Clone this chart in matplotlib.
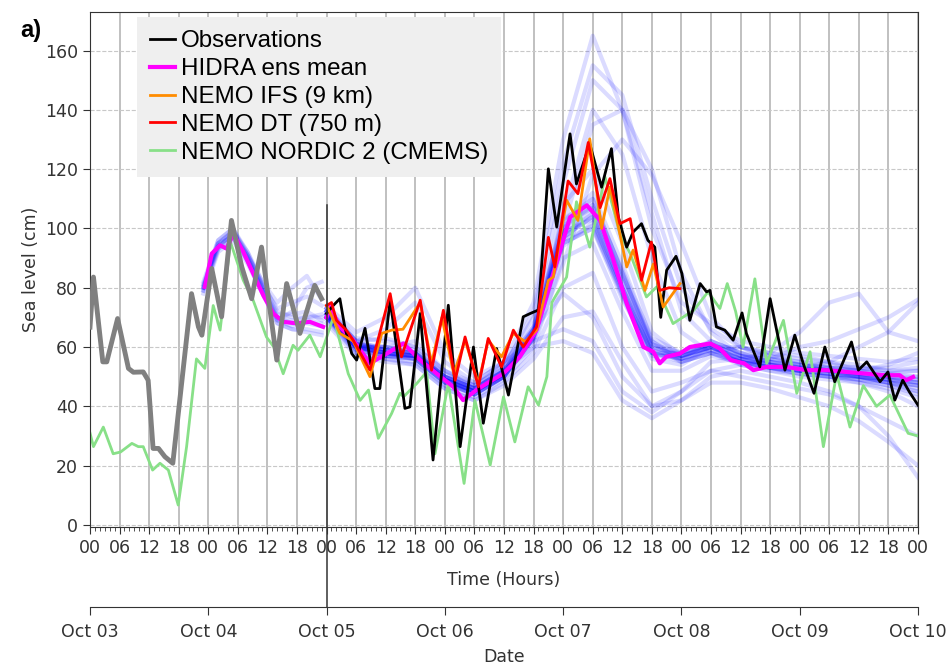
import matplotlib
matplotlib.use("Agg")
import matplotlib.pyplot as plt
import numpy as np

# time in hours from Oct 03 00:00
obs_hist_t = [0, 0.7, 2.6, 3.4, 5.6, 7.8, 8.8, 10.8, 11.8, 12.8, 13.9, 15.2, 16.8, 20.6, 22, 22.7,
              24.7, 26.7, 28.7, 30.8, 32.8, 34.8, 37.9, 39.9, 42.6, 45.6, 47]
obs_hist_v = [66.7, 83.6, 55, 55, 69.6, 52.8, 51.5, 51.6, 48.8, 25.8, 25.8, 23, 20.8, 78, 66.8, 64,
              86.5, 70.2, 102.7, 87, 76.3, 93.7, 55.6, 81.4, 64.6, 80.8, 76.3]

obs_t = [48, 49.4, 50.7, 51.7, 53.1, 54.1, 55.8, 57.8, 58.8, 60.9, 63.9, 64.9, 67, 69.6, 72.7, 75.1,
         77.8, 79.8, 82.5, 84.9, 87.9, 89.3, 91, 93, 94.7, 97.4, 98.7, 101.4, 103.8, 105.8, 107.2,
         108.9, 110.2, 111.9, 113.2, 114.6, 115.8, 117, 118.9, 120.1, 121.7, 123.8, 125.1, 125.8,
         127.1, 128.8, 130.5, 132.3, 133.2, 135.9, 138, 141, 143, 144.7, 146.9, 149.1, 151.1, 154.5,
         155.9, 157.6, 160.3, 161.9, 163.3, 164.9, 166.2, 168]
obs_v = [71.3, 74.1, 76.3, 66.7, 57.8, 55.6, 66.3, 46, 46, 75.8, 39.3, 39.8, 71.3, 21.9, 74.1, 26.4,
         60, 34.3, 59.5, 43.8, 70.2, 71.3, 72.5, 120.1, 100.5, 131.9, 115, 128.5, 113.9, 126.9, 103.8,
         93.7, 98.8, 101.6, 96, 93.7, 70, 85.9, 90.6, 84.8, 69, 81.4, 78.6, 79.1,
         66.8, 65.7, 62.3, 71.5, 64.5, 53.3, 76.3, 52.2, 64, 54.5, 44.4, 60, 48.3, 61.7,
         52.2, 55, 48.3, 51.6, 42.1, 48.8, 45, 40.4]

hidra1_t = [23.3, 24.7, 26.4, 27.7, 29.1, 31.1, 33.1, 35.2, 37.2, 39.2, 41.9, 44.6, 47.3]
hidra1_v = [80.3, 91.5, 94.3, 93.2, 98.2, 92.1, 84.8, 77.3, 71.3, 68.5, 68, 68.5, 66.8]

hidra_t = [48, 48.7, 50.7, 53.4, 56.8, 60.2, 63.6, 67, 70.3, 73.7, 75.7, 78.4, 80.5, 83.9, 87.2,
           90.6, 94, 97.4, 100.8, 103.5, 106.2, 108.9, 112.3, 114.3, 115.6, 116.9, 119.7, 121.7,
           125.8, 127.8, 130, 132.7, 134.6, 137.3, 141.3, 145.4, 149.5, 153.5, 156.9, 161, 164.3,
           165.6, 167]
hidra_v = [70, 73.5, 66.8, 62.3, 54.5, 57.8, 61.2, 55.6, 51.1, 46.6, 42.1, 45.5, 47.7, 51.1, 56.7,
           65.7, 84.8, 103.8, 107.8, 102.7, 89.3, 74.7, 60, 58.4, 54.5, 56.7, 57.8, 60,
           61.2, 59.5, 55.6, 54.5, 52.2, 53.3, 53.3, 52.2, 52.2, 51.6, 51.1, 50.5, 50.5,
           48.8, 49.9]

ifs_t = [48, 50.7, 53.4, 56.8, 59.2, 61.2, 63.5, 67, 69.3, 71.4, 73.8, 76.1, 78.8, 80.8, 83.5, 85.9,
         88.3, 90.6, 93, 94, 96.7, 99, 101.4, 103.8, 105.5, 107.5, 108.9, 110.2, 112.6, 114.3,
         116.3, 119.7]
ifs_v = [74, 64.6, 62, 50, 64.6, 65.7, 66, 75, 54.4, 70, 51, 62.3, 47.7, 62.3, 56.7, 64.6,
         61.8, 65.7, 82.5, 83.6, 109.5, 102.7, 130.2, 100, 114, 98.2, 87, 92.7, 79.1, 88,
         73.5, 81.4]

dt_t = [48, 49, 50, 52, 53.4, 56.8, 60.9, 63.2, 67, 69.3, 71.7, 74.1, 76.1, 78.8, 80.8, 83.5, 85.9,
        87.9, 90.6, 93, 94.3, 97, 99, 101.1, 103.5, 105.5, 107.5, 109.6, 111.9, 113.9, 115.6,
        117.5, 119.7]
dt_v = [74, 75, 69, 65.7, 62.3, 52.2, 78, 56.7, 75.8, 52.2, 72.4, 48.8, 63.4, 46.6, 62.9, 53.3, 65.7,
        60, 66.8, 97, 87, 116, 111.7, 129, 107, 116.8, 101.6, 103.3, 82.5, 95.4, 79.1,
        80, 79.7]

nordic_t = [0, 0.7, 2.7, 4.7, 6.2, 8.5, 9.8, 10.8, 12.7, 14.2, 15.9, 17.9, 19.6, 21.6, 23.3, 25,
            26.4, 28.5, 31.1, 33.1, 35.8, 37.3, 39.2, 41.2, 42.2, 44.6, 46.7, 49.4, 52.4, 54.8,
            56.5, 58.5, 61.2, 62.9, 63.6, 66.3, 68.3, 70, 72.7, 75.9, 78.1, 81.2, 83.9, 86.2,
            88.9, 91, 92.7, 93.7, 96.7, 98.7, 101.4, 104.5, 107.5, 109.6, 112.9, 115, 118.3,
            122.5, 125.4, 127.8, 129.3, 131, 132.5, 134.9, 137.3, 140.7, 143.4, 146.1, 148.8,
            151.5, 154.2, 156.9, 159.6, 162.3, 166, 168]
nordic_v = [31, 26.4, 33, 24, 24.6, 27.5, 26.4, 26.4, 18.5, 20.8, 18.5, 6.7, 26.4, 56, 52.8, 74,
            65.7, 95.4, 82.5, 75.8, 63.4, 60, 51, 60.6, 58.9, 64, 56.7, 70.2, 51, 42,
            45.5, 29.2, 37.6, 44.4, 43.2, 47.7, 51.6, 24, 47.7, 14, 42, 20.2, 43.2, 28,
            46.6, 40.4, 50, 75, 83.6, 109, 93.7, 117.3, 98.2, 91.5, 76.9, 80.3, 67.9,
            72.4, 78.6, 73, 81.4, 72, 60, 83, 54.5, 69, 44.4, 58.4, 26.4,
            51, 33, 47, 40, 43.8, 30.9, 30]

# HIDRA ensemble members, first run (Oct 04)
ens1_t = [23, 26, 29, 32, 35, 38, 41, 44, 47]
ens1_members = [
    [82, 96, 100, 92, 82, 72, 70, 70, 70],
    [78, 92, 96, 88, 78, 68, 66, 66, 65],
    [80, 95, 99, 91, 81, 73, 75, 77, 74],
    [79, 93, 97, 89, 79, 69, 72, 80, 82],
    [81, 95, 99, 90, 79, 68, 66, 65, 64],
    [80, 94, 98, 91, 82, 75, 80, 84, 76],
    [80, 94, 98, 90, 80, 70, 68, 68, 67],
    [81, 95, 97, 89, 79, 70, 69, 70, 71],
    [79, 93, 99, 92, 80, 69, 67, 69, 68],
    [80, 96, 100, 91, 81, 71, 71, 72, 69],
]

# HIDRA ensemble members, second run (Oct 05 - Oct 10)
ens2_t = [48, 54, 60, 66, 72, 78, 84, 90, 96, 102, 108, 114, 120, 126, 132, 138, 144, 150, 156, 162, 168]
ens2_members = [
    [72, 62, 63, 60, 52, 48, 55, 75, 130, 165, 140, 100, 75, 68, 62, 60, 58, 57, 56, 55, 56],
    [70, 60, 60, 58, 50, 47, 53, 72, 122, 155, 145, 110, 80, 66, 60, 58, 57, 55, 52, 50, 48],
    [73, 63, 62, 60, 52, 47, 54, 70, 115, 150, 140, 105, 72, 62, 58, 57, 55, 53, 50, 48, 47],
    [70, 61, 60, 58, 50, 46, 52, 64, 100, 135, 140, 120, 85, 65, 57, 55, 53, 52, 52, 54, 58],
    [71, 60, 58, 57, 49, 45, 50, 63, 105, 140, 125, 90, 65, 58, 55, 54, 53, 55, 60, 65, 75],
    [72, 60, 58, 57, 49, 45, 51, 66, 108, 120, 95, 65, 57, 60, 60, 58, 56, 55, 54, 52, 52],
    [70, 59, 57, 56, 48, 44, 50, 64, 100, 110, 85, 60, 55, 58, 60, 57, 54, 53, 52, 51, 50],
    [73, 61, 59, 57, 49, 45, 51, 65, 98, 105, 80, 58, 56, 62, 58, 55, 54, 52, 50, 49, 48],
    [71, 60, 57, 56, 48, 44, 50, 63, 95, 100, 78, 56, 54, 60, 57, 54, 52, 51, 50, 48, 45],
    [69, 58, 56, 55, 47, 43, 49, 60, 90, 95, 72, 52, 52, 57, 55, 53, 51, 50, 48, 45, 40],
    [68, 57, 55, 54, 46, 42, 48, 58, 80, 85, 60, 45, 48, 52, 50, 48, 46, 44, 40, 35, 30],
    [70, 58, 56, 54, 46, 42, 47, 56, 70, 72, 55, 40, 42, 48, 48, 46, 43, 40, 35, 28, 20],
    [71, 60, 60, 62, 52, 46, 52, 60, 62, 58, 42, 36, 42, 50, 52, 50, 48, 45, 40, 30, 16],
    [72, 62, 66, 75, 55, 48, 55, 66, 78, 70, 50, 40, 45, 55, 56, 58, 65, 75, 78, 65, 62],
    [74, 65, 70, 80, 58, 50, 55, 62, 66, 62, 45, 38, 45, 52, 54, 56, 60, 62, 66, 70, 76],
    [70, 60, 58, 57, 50, 46, 51, 62, 88, 118, 130, 118, 95, 70, 60, 56, 54, 52, 50, 49, 47],
    [71, 60, 58, 57, 49, 45, 51, 65, 97, 104, 80, 60, 57, 60, 55, 53, 52, 51, 50, 49, 48],
    [72, 61, 57, 56, 48, 44, 50, 64, 95, 100, 76, 58, 58, 61, 54, 52, 51, 50, 49, 48, 47],
    [70, 59, 58, 57, 50, 46, 52, 66, 100, 108, 84, 62, 56, 59, 56, 54, 53, 52, 51, 50, 50],
    [73, 62, 59, 58, 50, 46, 52, 67, 102, 112, 88, 62, 55, 58, 55, 53, 52, 53, 52, 51, 52],
    [71, 61, 59, 58, 49, 45, 51, 64, 96, 106, 82, 60, 57, 60, 56, 54, 52, 51, 50, 49, 49],
    [72, 60, 57, 57, 49, 44, 50, 65, 99, 103, 78, 59, 56, 59, 55, 53, 51, 50, 50, 48, 46],
    [70, 60, 59, 58, 50, 45, 52, 66, 101, 107, 83, 61, 58, 61, 57, 55, 53, 52, 51, 50, 49],
    [73, 62, 58, 56, 48, 45, 51, 63, 94, 102, 79, 58, 56, 60, 56, 54, 52, 51, 49, 47, 44],
    [71, 61, 60, 59, 50, 46, 52, 65, 98, 108, 86, 63, 58, 62, 58, 55, 54, 53, 53, 53, 55],
    [72, 60, 58, 56, 48, 44, 50, 64, 97, 104, 80, 58, 55, 58, 54, 52, 50, 49, 48, 46, 43],
    [70, 61, 59, 58, 51, 47, 53, 67, 103, 110, 85, 61, 57, 61, 57, 56, 55, 54, 53, 52, 53],
    [71, 59, 57, 57, 49, 45, 50, 63, 96, 101, 77, 57, 57, 60, 56, 53, 52, 50, 49, 47, 45],
]

date_labels = ['Oct 03', 'Oct 04', 'Oct 05', 'Oct 06', 'Oct 07', 'Oct 08', 'Oct 09', 'Oct 10']

plt.rcParams['font.family'] = 'DejaVu Sans'
fig = plt.figure(figsize=(9.53, 6.65), dpi=100)
ax = fig.add_axes([90 / 953, 1 - 527 / 665, 828 / 953, 515 / 665])

for m in ens1_members:
    ax.plot(ens1_t, m, color='blue', alpha=0.14, lw=3, zorder=1)
for m in ens2_members:
    ax.plot(ens2_t, m, color='blue', alpha=0.14, lw=3, zorder=1)

ax.plot(nordic_t, nordic_v, color='#88e088', lw=2, zorder=2, label='NEMO NORDIC 2 (CMEMS)')
ax.plot(hidra1_t, hidra1_v, color='magenta', lw=3, zorder=3)
ax.plot(hidra_t, hidra_v, color='magenta', lw=3, zorder=3, label='HIDRA ens mean')
ax.plot(obs_hist_t, obs_hist_v, color='gray', lw=3.5, zorder=4)
ax.plot(obs_t, obs_v, color='black', lw=2, zorder=4, label='Observations')
ax.plot(ifs_t, ifs_v, color='darkorange', lw=2, zorder=5, label='NEMO IFS (9 km)')
ax.plot(dt_t, dt_v, color='red', lw=2, zorder=6, label='NEMO DT (750 m)')

# forecast start marker, reaching down to the date axis
ax.plot([48, 48], [108, -27.6], color='#333333', lw=1.1, clip_on=False, zorder=7)

ax.set_xlim(0, 168)
ax.set_ylim(-0.7, 173)
ax.set_xticks(np.arange(0, 169, 6))
ax.set_xticklabels(['%02d' % (h % 24) for h in range(0, 169, 6)])
ax.set_xticks(np.arange(0, 169, 1), minor=True)
ax.set_yticks(np.arange(0, 161, 20))
ax.tick_params(axis='both', which='major', labelsize=12.5, length=5, colors='#333333', labelcolor='#333333')
ax.tick_params(axis='x', which='minor', length=3, color='#333333')
ax.grid(axis='x', which='major', color='#b5b5b5', lw=1.2, ls='-')
ax.grid(axis='y', which='major', color='#c8c8c8', lw=0.8, ls='--')
ax.set_axisbelow(True)
ax.set_xlabel('Time (Hours)', fontsize=12.5, color='#333333', labelpad=10)
ax.set_ylabel('Sea level (cm)', fontsize=12.5, color='#333333')
for s in ax.spines.values():
    s.set_color('#333333')

# date axis below
ax2 = ax.twiny()
ax2.set_xlim(0, 168)
ax2.xaxis.set_ticks_position('bottom')
ax2.xaxis.set_label_position('bottom')
ax2.spines['bottom'].set_position(('outward', 57.6))
for side in ['top', 'left', 'right']:
    ax2.spines[side].set_visible(False)
ax2.spines['bottom'].set_color('#333333')
ax2.set_xticks(np.arange(0, 169, 24))
ax2.set_xticklabels(date_labels)
ax2.tick_params(axis='x', labelsize=12.5, length=6, pad=5.5, colors='#333333', labelcolor='#333333')
ax2.set_xlabel('Date', fontsize=12.5, color='#333333', labelpad=5)

handles, labels = ax.get_legend_handles_labels()
order = ['Observations', 'HIDRA ens mean', 'NEMO IFS (9 km)', 'NEMO DT (750 m)', 'NEMO NORDIC 2 (CMEMS)']
hl = dict(zip(labels, handles))
leg = ax.legend([hl[k] for k in order], order, loc='upper left', bbox_to_anchor=(0.057, 0.99),
                borderaxespad=0, prop={'family': 'Liberation Sans', 'size': 17.4},
                facecolor='#efefef', edgecolor='none', framealpha=1, fancybox=False,
                handlelength=1.0, handletextpad=0.25, labelspacing=0.24, borderpad=0.55)
leg.set_zorder(10)

fig.text(20 / 953, 1 - 30 / 665, 'a)', fontsize=17, fontweight='bold', family='Liberation Sans',
         va='center', ha='left')

fig.savefig('out.png', dpi=100)
